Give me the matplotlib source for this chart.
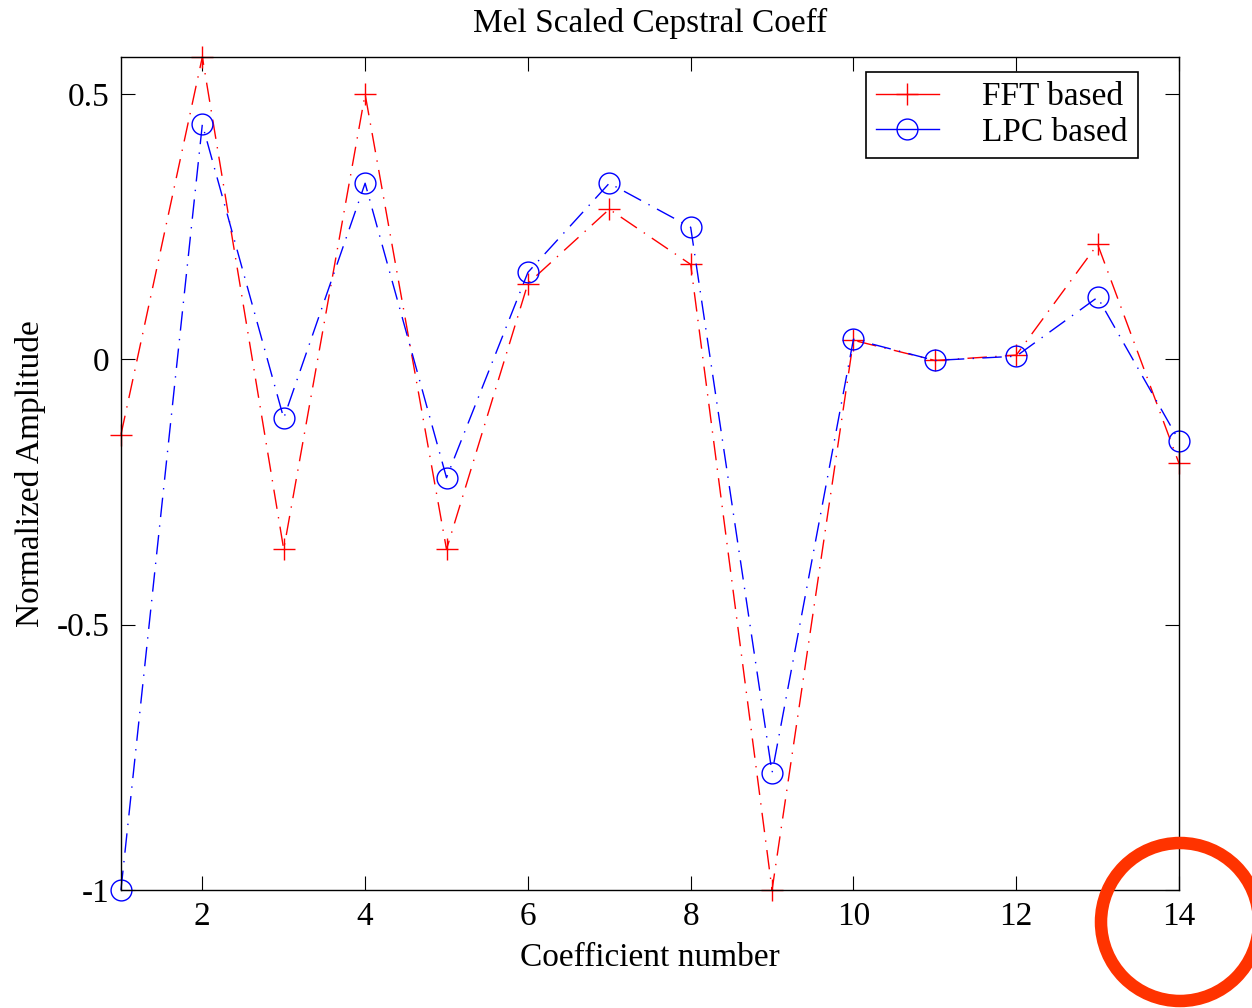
import matplotlib
matplotlib.use("Agg")
import matplotlib.pyplot as plt
from matplotlib.lines import Line2D
from matplotlib.patches import Circle

plt.rcParams['font.family'] = ['Liberation Serif', 'DejaVu Serif']

coeff = [1, 2, 3, 4, 5, 6, 7, 8, 9, 10, 11, 12, 13, 14]
fft_based = [-0.142, 0.570, -0.358, 0.500, -0.358, 0.143, 0.283, 0.179,
             -1.000, 0.036, -0.002, 0.008, 0.217, -0.196]
lpc_based = [-1.000, 0.443, -0.111, 0.332, -0.223, 0.164, 0.332, 0.249,
             -0.779, 0.038, -0.002, 0.006, 0.117, -0.153]

fig = plt.figure(figsize=(12.52, 10.08), dpi=100)
ax = fig.add_axes([0.0966, 0.1171, 0.8451, 0.8264])

dashdot = (0, (14, 6, 1, 6))
ax.plot(coeff, fft_based, color='red', linestyle=dashdot, lw=1.0,
        marker='+', ms=16, mew=1.0, clip_on=False)
ax.plot(coeff, lpc_based, color='blue', linestyle=dashdot, lw=1.0,
        marker='o', ms=15, mfc='none', mew=1.0, clip_on=False)

ax.set_xlim(1, 14)
ax.set_ylim(-1, 0.57)
ax.set_xticks([2, 4, 6, 8, 10, 12, 14])
ax.set_yticks([-1, -0.5, 0, 0.5])
ax.set_yticklabels(['-1', '-0.5', '0', '0.5'])
ax.tick_params(direction='in', length=10, width=0.8, labelsize=24,
               top=True, right=True, pad=8)
for s in ax.spines.values():
    s.set_linewidth(1.0)

ax.set_title('Mel Scaled Cepstral Coeff', fontsize=24, pad=18)
ax.set_xlabel('Coefficient number', fontsize=24, labelpad=8)
ax.set_ylabel('Normalized Amplitude', fontsize=24, labelpad=8)

# legend handles drawn with solid lines
handles = [
    Line2D([], [], color='red', lw=1.0, marker='+', ms=16, mew=1.0),
    Line2D([], [], color='blue', lw=1.0, marker='o', ms=15, mfc='none', mew=1.0),
]
leg = ax.legend(handles, ['FFT based', 'LPC based'], loc='upper right',
                bbox_to_anchor=(0.961, 0.982), borderaxespad=0,
                fontsize=24, fancybox=False, edgecolor='black', framealpha=1,
                borderpad=0.3, handlelength=1.9,
                labelspacing=0.15, handletextpad=1.3)
leg.get_frame().set_linewidth(1.2)

# highlight ring around the last tick
ring = Circle((1180, 1008 - 922), 79, transform=None, fill=False,
              edgecolor='#ff3300', lw=9, clip_on=False)
fig.patches.append(ring)

fig.savefig('out.png', dpi=100)
